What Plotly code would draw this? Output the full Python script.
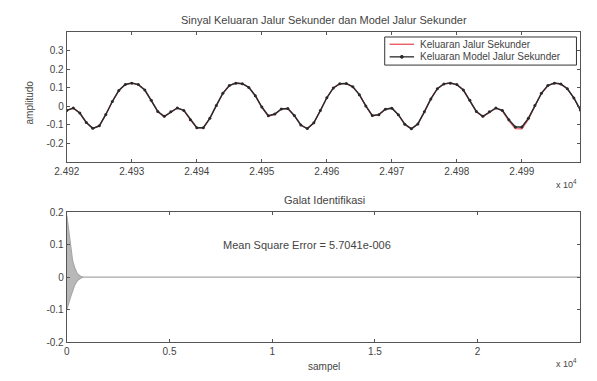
import plotly.graph_objects as go

# ---- data ----
sampel = list(range(24920, 25000))
model_out = [
    -0.022, -0.009, -0.036, -0.087, -0.119, -0.105, -0.044, 0.026, 0.085, 0.118,
    0.125, 0.117, 0.088, 0.033, -0.028, -0.054, -0.030, -0.009, -0.022, -0.072,
    -0.115, -0.115, -0.065, 0.005, 0.070, 0.112, 0.125, 0.122, 0.102, 0.057,
    -0.004, -0.051, -0.042, -0.014, -0.012, -0.050, -0.101, -0.120, -0.089, -0.023,
    0.046, 0.099, 0.122, 0.123, 0.105, 0.063, 0.002, -0.050, -0.045, -0.016,
    -0.010, -0.045, -0.097, -0.121, -0.095, -0.030, 0.040, 0.095, 0.121, 0.125,
    0.117, 0.088, 0.033, -0.028, -0.054, -0.030, -0.009, -0.022, -0.072, -0.112,
    -0.112, -0.065, 0.005, 0.070, 0.112, 0.125, 0.120, 0.095, 0.045, -0.020,
]
plant_out = [
    -0.022, -0.010, -0.037, -0.088, -0.120, -0.106, -0.045, 0.026, 0.085, 0.118,
    0.125, 0.117, 0.088, 0.033, -0.030, -0.057, -0.031, -0.009, -0.022, -0.073,
    -0.116, -0.116, -0.066, 0.005, 0.070, 0.112, 0.125, 0.122, 0.102, 0.056,
    -0.006, -0.054, -0.044, -0.015, -0.012, -0.051, -0.102, -0.121, -0.090, -0.023,
    0.046, 0.099, 0.122, 0.123, 0.105, 0.063, 0.001, -0.052, -0.046, -0.016,
    -0.010, -0.046, -0.098, -0.122, -0.096, -0.030, 0.040, 0.095, 0.121, 0.125,
    0.117, 0.088, 0.032, -0.030, -0.056, -0.031, -0.010, -0.025, -0.079, -0.121,
    -0.122, -0.071, 0.003, 0.070, 0.112, 0.125, 0.120, 0.095, 0.045, -0.020,
]
# error envelope (upper / lower bound of the dense error oscillation)
err_sampel = [0, 95, 190, 285, 380, 520, 670, 800, 25000]
err_upper = [0.19, 0.14, 0.09, 0.05, 0.03, 0.01, 0.003, 0.0, 0.0]
err_lower = [-0.10, -0.08, -0.06, -0.04, -0.025, -0.01, -0.003, 0.0, 0.0]

top_xticks = [24920, 24930, 24940, 24950, 24960, 24970, 24980, 24990]
top_xlabels = ["2.492", "2.493", "2.494", "2.495", "2.496", "2.497", "2.498", "2.499"]
top_yticks = [-0.2, -0.1, 0, 0.1, 0.2, 0.3]
top_ylabels = ["-0.2", "-0.1", "0", "0.1", "0.2", "0.3"]
bot_xticks = [0, 5000, 10000, 15000, 20000]
bot_xlabels = ["0", "0.5", "1", "1.5", "2"]
bot_yticks = [-0.2, -0.1, 0, 0.1, 0.2]
bot_ylabels = ["-0.2", "-0.1", "0", "0.1", "0.2"]
legend_names = ["Keluaran Jalur Sekunder", "Keluaran Model Jalur Sekunder"]

W, H = 597, 381
FONT = "Liberation Sans, Arial, sans-serif"
TXT = "#444444"
AX = "#555555"
RED = "#e8505a"
BLK = "#2a2a2a"

fig = go.Figure()
fig.add_trace(go.Scatter(x=sampel, y=plant_out, mode="lines", name=legend_names[0],
                         line=dict(color=RED, width=1.2), xaxis="x", yaxis="y"))
fig.add_trace(go.Scatter(x=sampel, y=model_out, mode="lines+markers", name=legend_names[1],
                         line=dict(color=BLK, width=1.5),
                         marker=dict(color=BLK, size=3), xaxis="x", yaxis="y"))

poly_x = err_sampel + err_sampel[::-1]
poly_y = err_upper + err_lower[::-1]
fig.add_trace(go.Scatter(x=poly_x, y=poly_y, mode="lines", fill="toself",
                         fillcolor="#b8b8b8", line=dict(color="#a8a8a8", width=1.2),
                         showlegend=False, xaxis="x2", yaxis="y2"))

def px_x(p):
    return p / W

def px_y(p):
    return 1 - p / H

axis_common = dict(showline=True, linecolor=AX, linewidth=1.2, mirror="ticks",
                   ticks="inside", ticklen=3, tickcolor=AX, showgrid=False, zeroline=False,
                   tickfont=dict(family=FONT, size=10, color=TXT))

fig.update_layout(
    width=W, height=H,
    margin=dict(l=0, r=0, t=0, b=0),
    paper_bgcolor="white", plot_bgcolor="white",
    font=dict(family=FONT, size=10, color=TXT),
    xaxis=dict(domain=[px_x(55), px_x(580)], range=[24920, 24999], anchor="y",
               tickvals=top_xticks, ticktext=top_xlabels, **axis_common),
    yaxis=dict(domain=[px_y(161), px_y(27)], range=[-0.3, 0.4], anchor="x",
               tickvals=top_yticks, ticktext=top_ylabels, **axis_common),
    xaxis2=dict(domain=[px_x(55), px_x(580)], range=[0, 25000], anchor="y2",
                tickvals=bot_xticks, ticktext=bot_xlabels, **axis_common),
    yaxis2=dict(domain=[px_y(347), px_y(213)], range=[-0.2, 0.2], anchor="x2",
                tickvals=bot_yticks, ticktext=bot_ylabels, **axis_common),
    showlegend=False,
)

# ---- legend box (drawn in paper coordinates) ----
lx0, lx1, ly0, ly1 = 380, 576, 32, 61
fig.add_shape(type="rect", xref="paper", yref="paper",
              x0=px_x(lx0), x1=px_x(lx1), y0=px_y(ly1), y1=px_y(ly0),
              line=dict(color="#333333", width=1), fillcolor="white", layer="above")
rows = [39.5, 52.5]
styles = [RED, BLK]
for ry, col in zip(rows, styles):
    fig.add_shape(type="line", xref="paper", yref="paper",
                  x0=px_x(385), x1=px_x(410), y0=px_y(ry), y1=px_y(ry),
                  line=dict(color=col, width=1.3), layer="above")
fig.add_shape(type="circle", xref="paper", yref="paper",
              x0=px_x(396), x1=px_x(399), y0=px_y(rows[1] + 1.5), y1=px_y(rows[1] - 1.5),
              line=dict(color=BLK, width=1), fillcolor=BLK, layer="above")
for ry, name in zip(rows, legend_names):
    fig.add_annotation(text=name, x=px_x(414), y=px_y(ry), xref="paper", yref="paper",
                       showarrow=False, xanchor="left", yanchor="middle",
                       font=dict(family=FONT, size=10, color=TXT))

ann = [
    dict(text="Sinyal Keluaran Jalur Sekunder dan Model Jalur Sekunder", x=px_x(318), y=px_y(14), size=11),
    dict(text="Galat Identifikasi", x=px_x(318), y=px_y(200), size=11),
    dict(text="sampel", x=px_x(318), y=px_y(372), size=10),
    dict(text="x 10<sup>4</sup>", x=px_x(566), y=px_y(184), size=9),
    dict(text="x 10<sup>4</sup>", x=px_x(566), y=px_y(369), size=9),
]
for a in ann:
    fig.add_annotation(text=a["text"], x=a["x"], y=a["y"], xref="paper", yref="paper",
                       showarrow=False, xanchor="center", yanchor="middle",
                       font=dict(family=FONT, size=a["size"], color=TXT))
fig.add_annotation(text="amplitudo", x=px_x(17), y=px_y(100), xref="paper", yref="paper",
                   showarrow=False, textangle=-90, xanchor="center", yanchor="middle",
                   font=dict(family=FONT, size=10, color=TXT))
fig.add_annotation(text="Mean Square Error = 5.7041e-006", x=11700, y=0.1, xref="x2", yref="y2",
                   showarrow=False, xanchor="center", yanchor="middle",
                   font=dict(family=FONT, size=11, color=TXT))

fig.write_html("out.html")
